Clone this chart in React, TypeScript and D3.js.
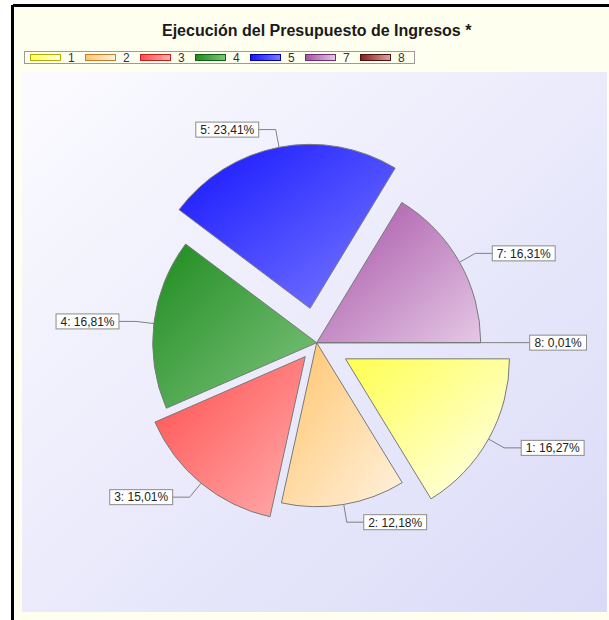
import React from "react";
import * as d3 from "d3";

const categories = ["1", "2", "3", "4", "5", "7", "8"];
const values = [16.27, 12.18, 15.01, 16.81, 23.41, 16.31, 0.01];
const labels = ["1: 16,27%", "2: 12,18%", "3: 15,01%", "4: 16,81%", "5: 23,41%", "7: 16,31%", "8: 0,01%"];
const explode = [33, 0, 18, 0, 35, 0, 0];
const leaderHoriz = [17, 17, 17, 17, 17, 17, 31];
const colorsDark = ["#ffff50", "#ffc46a", "#ff4c4c", "#1f8c1f", "#1414ff", "#a650a6", "#8a1c1c"];
const colorsLight = ["#fffff2", "#fff2e0", "#ffaeae", "#80c480", "#7c7cff", "#e4c8e4", "#dca6a6"];
const legendStroke = ["#b0b000", "#c08030", "#c02020", "#106010", "#0000a0", "#703070", "#501010"];

const W = 609;
const H = 620;
const cx = 316.7;
const cy = 342.7;
const R = 164;

export default function App() {
  const pie = d3
    .pie<number>()
    .sort(null)
    .startAngle(Math.PI / 2)
    .endAngle(Math.PI / 2 + 2 * Math.PI)
    .value((d) => d);
  const arcs = pie(values);
  const arcGen = d3.arc<d3.PieArcDatum<number>>().innerRadius(0).outerRadius(R);

  const legendX = d3.scaleBand<string>().domain(categories).range([25, 25 + 55 * categories.length]);

  return (
    <svg
      width={W}
      height={H}
      style={{ position: "absolute", left: 0, top: 0, fontFamily: "Arial, 'Liberation Sans', sans-serif" }}
    >
      <defs>
        <linearGradient id="plotBg" x1="0" y1="0" x2="1" y2="1">
          <stop offset="0" stopColor="#fbfbff" />
          <stop offset="1" stopColor="#dadaf8" />
        </linearGradient>
        {categories.map((c, i) => (
          <linearGradient key={c} id={`sg${i}`} x1="0" y1="0" x2="1" y2="1">
            <stop offset="0" stopColor={colorsDark[i]} />
            <stop offset="1" stopColor={colorsLight[i]} />
          </linearGradient>
        ))}
        {categories.map((c, i) => (
          <linearGradient key={c} id={`lg${i}`} x1="0" y1="0" x2="1" y2="0">
            <stop offset="0" stopColor={colorsDark[i]} />
            <stop offset="1" stopColor={colorsLight[i]} />
          </linearGradient>
        ))}
      </defs>
      <rect x={0} y={0} width={W} height={H} fill="#ffffff" />
      <rect x={13} y={7} width={W - 13} height={H - 7} fill="#fffff0" />
      <line x1={13} y1={5.5} x2={W} y2={5.5} stroke="#000" strokeWidth={3} />
      <line x1={12.5} y1={5} x2={12.5} y2={H} stroke="#000" strokeWidth={3} />
      <rect x={22} y={72} width={585} height={540} fill="url(#plotBg)" />

      <text x={cx} y={36} textAnchor="middle" fontSize={16} fontWeight="bold" fill="#1a1a1a">
        Ejecución del Presupuesto de Ingresos *
      </text>

      <g>
        <rect x={24.5} y={51.5} width={390} height={12} fill="none" stroke="#9a9a9a" />
        {categories.map((c, i) => {
          const x = legendX(c)!;
          return (
            <g key={c}>
              <rect x={x + 5.5} y={54.5} width={30} height={6} fill={`url(#lg${i})`} stroke={legendStroke[i]} />
              <text x={x + 43} y={62} fontSize={12} fill="#333">
                {c}
              </text>
            </g>
          );
        })}
      </g>

      {arcs.map((a, i) => {
        const mid = (a.startAngle + a.endAngle) / 2;
        const dx = Math.sin(mid);
        const dy = -Math.cos(mid);
        const ox = cx + explode[i] * dx;
        const oy = cy + explode[i] * dy;
        return (
          <path
            key={i}
            d={arcGen(a) || ""}
            transform={`translate(${ox},${oy})`}
            fill={`url(#sg${i})`}
            stroke="#7a7a7a"
            strokeWidth={1}
          />
        );
      })}

      {arcs.map((a, i) => {
        const mid = (a.startAngle + a.endAngle) / 2;
        const dx = Math.sin(mid);
        const dy = -Math.cos(mid);
        const ox = cx + explode[i] * dx;
        const oy = cy + explode[i] * dy;
        const px = ox + R * dx;
        const py = oy + R * dy;
        const ex = ox + (R + 18) * dx;
        const ey = oy + (R + 18) * dy;
        const side = dx >= 0 ? 1 : -1;
        const bx = ex + side * leaderHoriz[i];
        const tw = labels[i].length * 6.1;
        const boxW = tw + 8;
        const boxX = side > 0 ? bx : bx - boxW;
        return (
          <g key={`l${i}`}>
            <polyline
              points={`${px},${py} ${ex},${ey} ${bx},${ey}`}
              fill="none"
              stroke="#808080"
              strokeWidth={1}
            />
            <rect x={boxX} y={ey - 7.5} width={boxW} height={15} fill="#ffffff" stroke="#8a8a8a" />
            <text x={boxX + boxW / 2} y={ey + 4.3} textAnchor="middle" fontSize={12} fill="#222">
              {labels[i]}
            </text>
          </g>
        );
      })}
    </svg>
  );
}
